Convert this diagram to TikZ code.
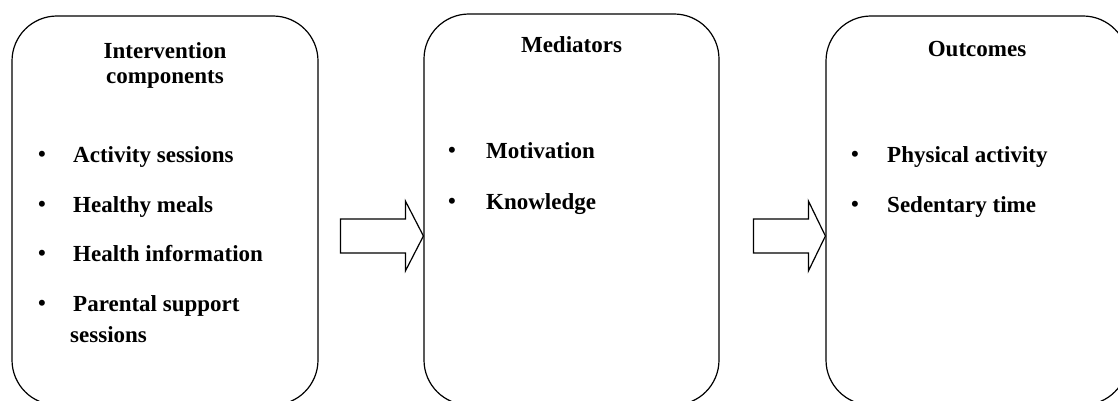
\documentclass[tikz,border=0pt]{standalone}
\usepackage{fontspec}
\setmainfont{Liberation Serif}

\tikzset{
  panel/.style={draw, line width=1.2pt, rounded corners=45pt, inner sep=0pt},
  blockarrow/.style={draw, line width=1.2pt, line join=miter},
  head/.style={font=\fontsize{23}{25}\selectfont\bfseries, align=center, anchor=base, inner sep=0pt},
  item/.style={font=\fontsize{23}{31}\selectfont\bfseries, align=left, anchor=base west, inner sep=0pt},
  dot/.style={font=\fontsize{25}{25}\selectfont, anchor=base, inner sep=0pt}
}

\begin{document}
\begin{tikzpicture}[x=1pt,y=1pt,yscale=-1]
\clip (0,0) rectangle (1118,401); %picture is 1118 x 401, boxes run off the bottom

%Shape: Rounded Rect [inputs]
\node[panel, minimum width=306pt, minimum height=389pt] (inputs) at (165,210.5) {};
%Shape: Rounded Rect [mediators]
\node[panel, minimum width=295pt, minimum height=391pt] (mediators) at (571.5,209.5) {};
%Shape: Rounded Rect [outcomes]
\node[panel, minimum width=302pt, minimum height=389pt] (outcomes) at (977,210.5) {};

%Block Arrows
\coordinate (arrowrow) at (0,236);
\coordinate (tipA) at (mediators.west |- arrowrow);
\coordinate (tipB) at (outcomes.west |- arrowrow);
\draw[blockarrow] (tipA) -- ++(-18,-35) -- ++(0,18) -- ++(-65,0) -- ++(0,34) -- ++(65,0) -- ++(0,18) -- cycle;
\draw[blockarrow] (tipB) -- ++(-17,-35) -- ++(0,18) -- ++(-55,0) -- ++(0,34) -- ++(55,0) -- ++(0,18) -- cycle;

% Text Node (two lines: top edge given)
\node[head, anchor=north] (inputshead) at (165,42.8) {Intervention\\components};
% Text Node
\node[head] (medhead) at (571.5,53) {Mediators};
% Text Node
\node[head] (outhead) at (977,57) {Outcomes};

% Text Node
\node[dot] (dotA1) at (42,162) {\textbullet};
\node[item] (activity) at (73,162) {Activity sessions};
\node[dot] (dotA2) at (42,212) {\textbullet};
\node[item] (meals) at (73,212) {Healthy meals};
\node[dot] (dotA3) at (42,261) {\textbullet};
\node[item] (info) at (73,261) {Health information};
\node[dot] (dotA4) at (42,311) {\textbullet};
\node[item, anchor=north west] (parental) at (73,295.3) {Parental support\\\hspace*{-3pt}sessions};

% Text Node
\node[dot] (dotB1) at (452,158) {\textbullet};
\node[item] (motivation) at (486,158) {Motivation};
\node[dot] (dotB2) at (452,209) {\textbullet};
\node[item] (knowledge) at (486,209) {Knowledge};

% Text Node
\node[dot] (dotC1) at (855,162) {\textbullet};
\node[item] (physical) at (887,162) {Physical activity};
\node[dot] (dotC2) at (855,212) {\textbullet};
\node[item] (sedentary) at (887,212) {Sedentary time};

\end{tikzpicture}
\end{document}
